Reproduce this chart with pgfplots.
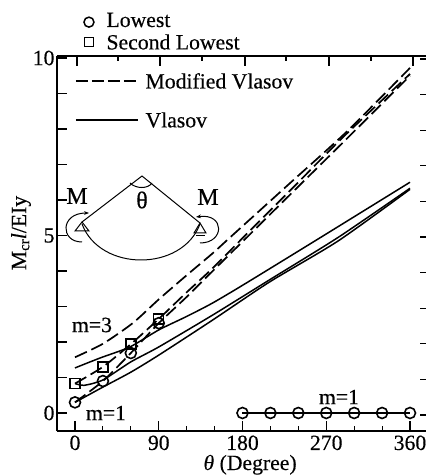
\documentclass[border=0pt]{standalone}
\usepackage{pgfplots}
\pgfplotsset{compat=1.18}
\usepackage{fontspec}
\setmainfont{Liberation Serif}[RawFeature={embolden=0.35}]
\usetikzlibrary{arrows.meta}
\newcommand{\fs}{\fontsize{21.7}{24}\selectfont}
\begin{document}
\begin{tikzpicture}[x=1pt,y=1pt]
\useasboundingbox (0,0) rectangle (426,475);
\begin{axis}[
  at={(57pt,44pt)},anchor=south west,
  scale only axis,width=369pt,height=375pt,
  xmin=-19.34,xmax=377.2,ymin=-0.507,ymax=10.056,
  axis x line=box,axis y line=left,
  axis line style={-,line width=1.3pt},
  xtick pos=bottom,ytick pos=left,
  xtick={0,90,180,270,360},xticklabels={0,90,180,270,360},
  minor xtick={30,60,120,150,210,240,300,330},
  ytick={0,1,2,3,4,5,6,7,8,9,10},yticklabels={0,,,,,5,,,,,10},
  tick align=inside,
  major tick length=10pt,minor tick length=5pt,
  tick style={line width=1.1pt,black},
  every tick label/.append style={font=\fs},
  xticklabel style={yshift=-1pt},
  yticklabel style={xshift=1pt},
  clip=false,
]
% Modified Vlasov
\addplot[black,line width=1.7pt,smooth,tension=0.4,dash pattern=on 13pt off 5pt] coordinates {(0,1.57)(30,1.95)(62,2.53)(90,3.2)(120,3.88)(148,4.5)(166,4.93)(230,6.45)(291,7.9)(360,9.72)};
\addplot[black,line width=1.7pt,smooth,tension=0.4,dash pattern=on 13pt off 5pt] coordinates {(0,0.83)(30,1.3)(60,1.94)(90,2.65)(120,3.4)(148,4.08)(184,5.03)(240,6.5)(288,7.77)(360,9.55)};
\addplot[black,line width=1.7pt,smooth,tension=0.4,dash pattern=on 13pt off 5pt] coordinates {(0,0.3)(30,0.9)(60,1.69)(90,2.53)(120,3.27)(148,4.0)(184,4.93)(240,6.38)(288,7.62)(360,9.5)};
% Vlasov
\addplot[black,line width=1.5pt,smooth,tension=0.4] coordinates {(0,1.27)(27,1.55)(59,1.86)(90,2.34)(120,2.72)(148,3.1)(184,3.66)(263,4.93)(360,6.5)};
\addplot[black,line width=1.5pt,smooth,tension=0.4] coordinates {(0,0.83)(10,0.78)(30,0.93)(60,1.44)(90,1.86)(148,2.76)(209,3.75)(283,4.95)(360,6.33)};
\addplot[black,line width=1.5pt,smooth,tension=0.4] coordinates {(0,0.3)(30,0.73)(60,1.15)(90,1.63)(148,2.62)(209,3.69)(283,4.85)(360,6.3)};
% markers
\addplot[black,line width=1.6pt,only marks,mark=o,mark size=5.5pt] coordinates {(0,0.3)(30,0.9)(60,1.69)(90,2.53)};
\addplot[black,line width=1.5pt,only marks,mark=square,mark size=5pt] coordinates {(0,0.83)(30,1.3)(60,1.94)(90,2.65)};
\addplot[black,line width=1.2pt,mark=o,mark size=5.5pt,mark options={line width=1.6pt}] coordinates {(180,0)(210,0)(240,0)(270,0)(300,0)(330,0)(360,0)};
% line keys
\addplot[black,line width=1.7pt,dash pattern=on 12pt off 4pt] coordinates {(1,9.35)(68,9.35)};
\addplot[black,line width=1.7pt] coordinates {(1,8.25)(68,8.25)};
% marker keys
\addplot[black,line width=1.5pt,only marks,mark=o,mark size=5pt] coordinates {(15,11.01)};
\addplot[black,line width=1.4pt,only marks,mark=square,mark size=4.5pt] coordinates {(15,10.45)};
\end{axis}
% top ticks
\foreach \x/\l in {77/10,118/5,160/10,202/5,245/10,286/5,329/10,371/5,413/10}
  \draw[line width=1.1pt] (\x,419) -- (\x,419-\l);
% right ticks
\foreach \i in {0,...,10}
  \draw[line width=1.1pt] (420,60+\i*35.6) -- (426,60+\i*35.6);
% legend and labels
\node[font=\fs,anchor=west] at (103,455) {Lowest};
\node[font=\fs,anchor=west] at (103,433) {Second Lowest};
\node[font=\fs,anchor=west] at (142,394) {Modified Vlasov};
\node[font=\fs,anchor=west] at (142,355) {Vlasov};
\node[font=\fs] at (92,150) {m=3};
\node[font=\fs] at (106,62) {m=1};
\node[font=\fs] at (339,78) {m=1};
\node[font=\fs,rotate=90] at (21,242) {M\raisebox{-3pt}{\fontsize{15}{15}\selectfont cr}\textit{l}/EIy};
\node[font=\fs,anchor=base west] at (200,5) {\textit{θ} (Degree)};
% inset
\begin{scope}[line width=1pt]
\draw (82,253) -- (142,299) -- (200,252);
\draw (82,251) .. controls (100,203) and (182,203) .. (200,251);
\draw (130,292) .. controls (136,286) and (148,286) .. (152,292);
\draw (82,253) -- (75,244) -- (89,244) -- cycle;
\draw (200,252) -- (194,242) -- (206,242) -- cycle;
\draw (196,239) -- (205,239);
\draw[-{Stealth[length=5pt]}] (82,233) .. controls (60,233) and (60,262) .. (89,262);
\draw[-{Stealth[length=5pt]}] (200,232) .. controls (225,232) and (225,262) .. (196,258);
\end{scope}
\node[font=\fontsize{24}{24}\selectfont] at (77,279) {M};
\node[font=\fontsize{24}{24}\selectfont] at (208,278) {M};
\node[font=\fontsize{24}{24}\selectfont] at (142,275) {θ};
\end{tikzpicture}
\end{document}
